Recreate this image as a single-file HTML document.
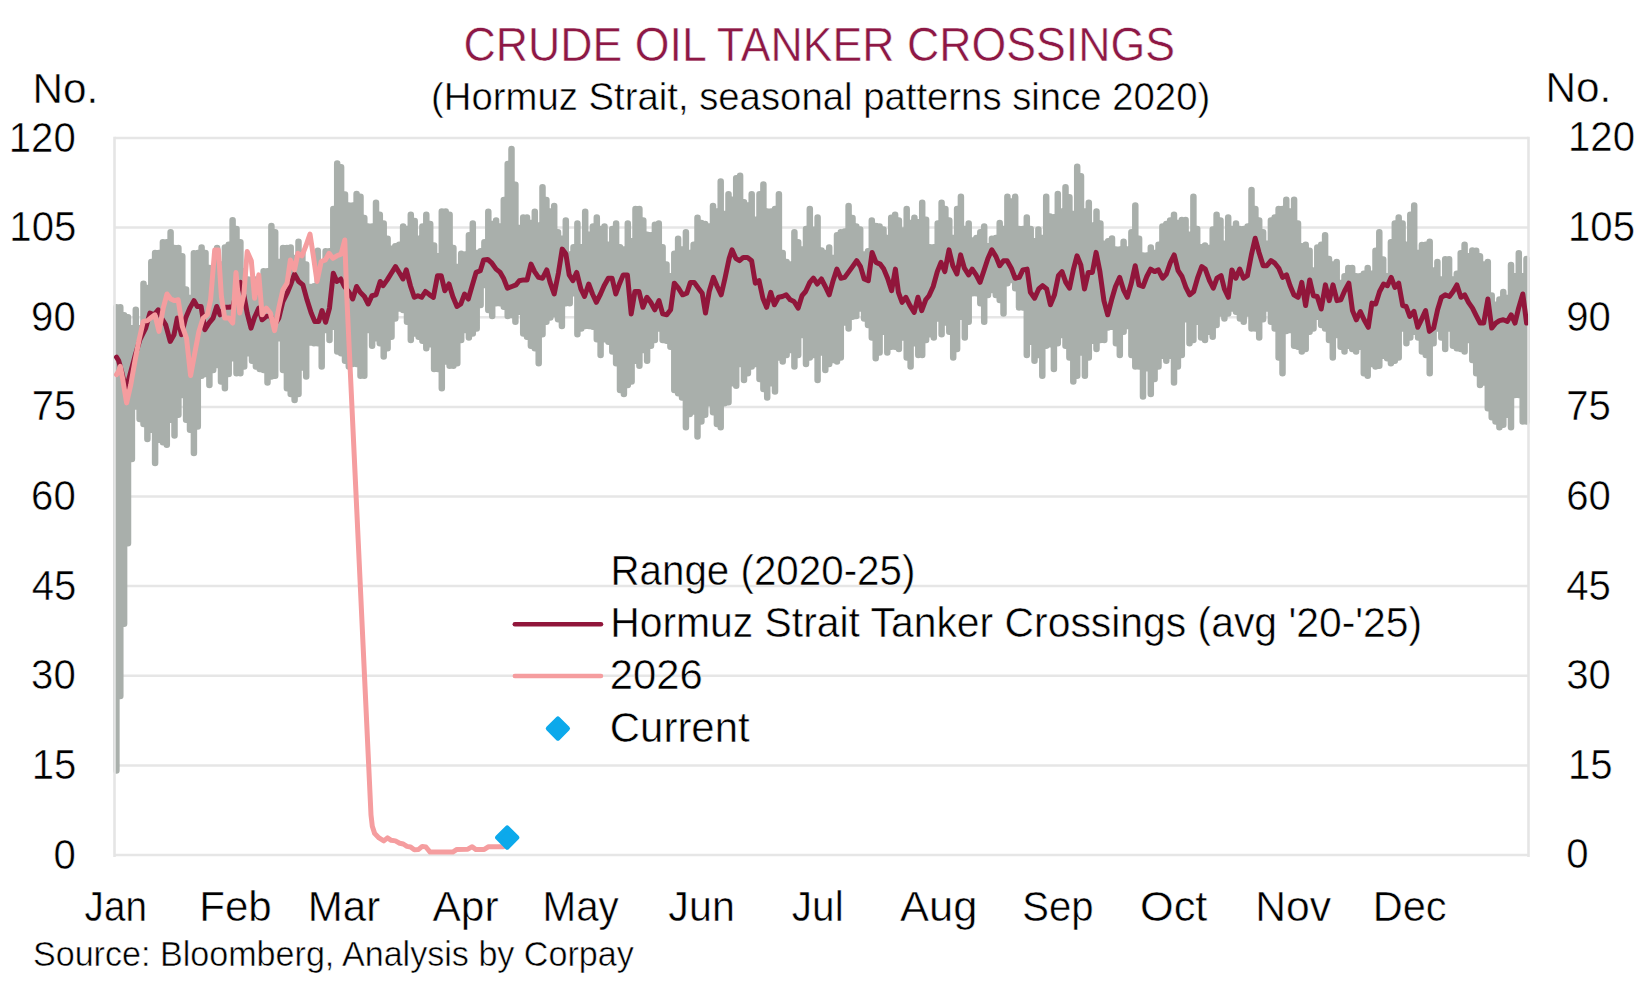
<!DOCTYPE html>
<html lang="en"><head><meta charset="utf-8"><title>Crude Oil Tanker Crossings</title>
<style>
html,body{margin:0;padding:0;background:#fff;}
body{width:1642px;height:1000px;overflow:hidden;}
svg{display:block;}
text{font-family:"Liberation Sans",sans-serif;stroke:#fff;stroke-width:0.5px;paint-order:fill stroke;}
</style></head><body>
<svg width="1642" height="1000" viewBox="0 0 1642 1000">
<rect width="1642" height="1000" fill="#fff"/>
<g stroke="#e6e6e6" stroke-width="2.5" fill="none">
<line x1="114.5" y1="855.00" x2="1528.5" y2="855.00"/>
<line x1="114.5" y1="765.38" x2="1528.5" y2="765.38"/>
<line x1="114.5" y1="675.75" x2="1528.5" y2="675.75"/>
<line x1="114.5" y1="586.12" x2="1528.5" y2="586.12"/>
<line x1="114.5" y1="496.50" x2="1528.5" y2="496.50"/>
<line x1="114.5" y1="406.88" x2="1528.5" y2="406.88"/>
<line x1="114.5" y1="317.25" x2="1528.5" y2="317.25"/>
<line x1="114.5" y1="227.62" x2="1528.5" y2="227.62"/>
<line x1="114.5" y1="138.00" x2="1528.5" y2="138.00"/>
</g>
<g stroke="#a9afab" stroke-width="6.5" stroke-linecap="round" fill="none">
<path d="M116.4 307.2V770.5M120.3 307.2V696.1M124.1 315.3V623.8M128.0 317.3V543.2M131.9 328.3V458.9M135.8 309.7V406.5M139.6 328.3V419.0M143.5 283.7V424.0M147.4 287.9V438.9M151.3 262.1V429.8M155.1 253.0V463.0M159.0 253.0V439.8M162.9 242.2V442.3M166.8 242.2V444.7M170.6 232.2V419.8M174.5 248.0V435.6M178.4 248.0V414.8M182.3 256.3V394.9M186.1 289.5V419.8M190.0 297.9V429.8M193.9 253.3V453.1M197.8 253.0V426.5M201.6 247.5V375.7M205.5 253.0V374.1M209.4 267.9V384.9M213.2 271.3V369.9M217.1 248.0V364.9M221.0 264.6V381.6M224.9 247.5V388.2M228.7 244.7V374.1M232.6 220.2V358.3M236.5 228.9V373.3M240.4 242.2V373.3M244.2 271.3V366.6M248.1 279.6V353.3M252.0 279.6V360.8M255.9 279.6V366.6M259.7 279.6V369.1M263.6 271.3V369.9M267.5 271.3V382.4M271.4 225.9V376.6M275.2 232.2V375.7M279.1 262.1V338.3M283.0 248.0V369.9M286.9 248.0V388.2M290.7 247.6V394.0M294.6 258.0V399.9M298.5 241.7V394.0M302.4 253.0V367.4M306.2 264.6V376.6M310.1 287.1V342.5M314.0 286.2V343.3M317.8 250.8V343.3M321.7 267.9V366.6M325.6 251.3V330.0M329.5 251.3V340.0M333.3 208.9V326.7M337.2 163.5V351.6M341.1 167.3V353.3M345.0 194.4V360.8M348.8 205.6V366.6M352.7 205.6V364.1M356.6 193.9V364.1M360.5 196.8V375.7M364.3 218.1V375.7M368.2 226.4V330.0M372.1 226.4V345.8M376.0 202.8V338.3M379.8 214.7V343.3M383.7 223.4V356.6M387.6 238.8V348.3M391.5 248.8V336.7M395.3 246.3V318.4M399.2 244.7V308.4M403.1 226.4V310.1M407.0 228.9V321.7M410.8 214.7V340.0M414.7 220.9V333.4M418.6 238.8V336.7M422.4 226.4V340.8M426.3 214.7V348.3M430.2 223.9V344.2M434.1 245.5V369.1M437.9 256.3V369.1M441.8 211.4V388.2M445.7 211.4V361.6M449.6 214.7V365.8M453.4 248.0V365.8M457.3 267.1V363.3M461.2 253.8V340.0M465.1 254.6V330.0M468.9 235.2V337.5M472.8 223.4V333.4M476.7 253.0V328.4M480.6 251.3V304.9M484.4 242.2V285.1M488.3 211.7V310.1M492.2 223.9V315.9M496.1 220.5V303.3M499.9 226.4V303.3M503.8 200.1V306.8M507.7 164.0V315.9M511.5 149.1V315.1M515.4 184.8V321.7M519.3 228.0V311.7M523.2 217.6V333.4M527.0 217.6V336.7M530.9 223.0V345.8M534.8 211.7V348.3M538.7 225.5V363.3M542.5 187.3V334.2M546.4 200.1V321.7M550.3 211.4V317.6M554.2 205.9V314.2M558.0 232.2V319.2M561.9 238.8V325.9M565.8 220.5V303.3M569.7 254.6V303.3M573.5 247.2V293.3M577.4 223.4V334.2M581.3 247.2V328.4M585.2 211.7V325.9M589.0 234.7V325.9M592.9 226.4V326.7M596.8 217.6V339.2M600.6 228.9V355.0M604.5 226.4V339.2M608.4 244.7V341.7M612.3 228.9V351.6M616.1 223.4V363.3M620.0 247.2V389.9M623.9 249.6V394.0M627.8 223.4V384.9M631.6 241.3V381.6M635.5 208.9V360.8M639.4 208.9V365.8M643.3 220.5V350.0M647.1 234.7V360.8M651.0 235.2V345.8M654.9 224.7V340.0M658.8 223.4V328.4M662.6 247.2V340.0M666.5 264.6V340.8M670.4 276.2V346.7M674.3 253.8V389.9M678.1 238.8V393.2M682.0 249.6V397.4M685.9 232.2V427.3M689.8 253.0V414.0M693.6 244.7V411.5M697.5 217.7V436.4M701.4 223.0V421.5M705.2 223.9V414.8M709.1 226.4V403.2M713.0 205.9V412.3M716.9 211.4V424.0M720.7 181.5V427.3M724.6 213.9V403.2M728.5 194.3V402.3M732.4 199.8V383.2M736.2 178.2V385.7M740.1 175.7V364.1M744.0 202.3V379.9M747.9 205.6V373.3M751.7 194.3V366.6M755.6 219.7V364.1M759.5 194.3V379.1M763.4 184.5V389.0M767.2 211.4V397.4M771.1 211.4V383.2M775.0 208.9V391.5M778.9 194.3V357.5M782.7 253.0V361.6M786.6 262.1V355.0M790.5 264.6V350.0M794.4 232.2V366.6M798.2 242.2V355.0M802.1 249.6V335.0M806.0 228.9V364.1M809.8 208.9V357.5M813.7 229.7V355.0M817.6 217.6V379.9M821.5 250.5V352.5M825.3 253.0V369.9M829.2 247.5V364.1M833.1 258.0V360.0M837.0 235.2V361.6M840.8 232.2V357.5M844.7 231.4V322.5M848.6 205.9V328.4M852.5 218.1V316.7M856.3 226.4V315.9M860.2 229.4V308.4M864.1 254.6V318.4M868.0 251.3V325.0M871.8 220.5V337.5M875.7 226.0V358.3M879.6 226.4V352.5M883.5 229.4V331.7M887.3 238.0V352.5M891.2 217.7V346.7M895.1 214.7V346.7M898.9 220.5V349.1M902.8 230.5V337.5M906.7 208.9V357.5M910.6 223.0V366.6M914.4 217.7V343.3M918.3 222.2V355.0M922.2 202.8V355.0M926.1 219.7V340.0M929.9 247.2V334.2M933.8 247.2V337.5M937.7 223.4V318.4M941.6 202.8V334.2M945.4 208.9V322.5M949.3 220.5V331.7M953.2 238.0V357.5M957.1 208.9V349.1M960.9 196.8V316.7M964.8 228.9V337.5M968.7 223.4V321.7M972.6 240.5V293.3M976.4 238.0V293.3M980.3 232.2V303.3M984.2 226.4V321.7M988.0 246.3V294.9M991.9 238.8V290.0M995.8 238.0V294.9M999.7 223.0V299.9M1003.5 228.9V313.4M1007.4 196.8V283.3M1011.3 201.4V280.0M1015.2 196.8V288.3M1019.0 228.9V307.4M1022.9 228.9V307.4M1026.8 217.6V355.0M1030.7 228.9V341.7M1034.5 241.3V360.8M1038.4 229.4V355.0M1042.3 238.0V375.7M1046.2 196.8V345.8M1050.0 216.4V344.2M1053.9 217.2V369.1M1057.8 193.9V343.3M1061.7 211.4V335.0M1065.5 187.3V345.8M1069.4 197.3V357.5M1073.3 213.9V381.6M1077.2 166.8V375.7M1081.0 176.2V352.5M1084.9 211.4V375.7M1088.8 202.8V357.5M1092.6 225.5V340.8M1096.5 211.4V349.1M1100.4 223.4V340.0M1104.3 243.8V340.0M1108.1 241.3V327.5M1112.0 238.5V326.7M1115.9 249.6V343.3M1119.8 249.6V355.0M1123.6 241.7V331.7M1127.5 249.6V325.9M1131.4 232.2V355.0M1135.3 205.6V366.6M1139.1 238.8V366.6M1143.0 255.5V396.5M1146.9 255.5V368.3M1150.8 247.5V394.0M1154.6 253.0V379.1M1158.5 244.7V366.6M1162.4 226.4V355.8M1166.3 223.9V360.8M1170.1 220.5V355.8M1174.0 214.7V382.4M1177.9 223.0V366.6M1181.8 220.1V355.0M1185.6 220.1V319.2M1189.5 234.7V343.3M1193.4 196.8V340.0M1197.2 228.9V321.7M1201.1 247.2V337.5M1205.0 245.5V340.0M1208.9 248.0V331.7M1212.7 229.4V336.7M1216.6 214.7V325.0M1220.5 220.5V313.4M1224.4 243.8V318.4M1228.2 217.6V313.4M1232.1 228.9V308.4M1236.0 223.4V311.7M1239.9 228.9V318.4M1243.7 228.9V321.7M1247.6 226.4V313.4M1251.5 190.1V328.4M1255.4 208.9V328.4M1259.2 220.5V337.5M1263.1 232.2V319.2M1267.0 243.8V308.4M1270.9 220.5V321.7M1274.7 217.6V328.4M1278.6 208.9V357.5M1282.5 208.9V373.3M1286.3 199.8V330.9M1290.2 211.4V330.0M1294.1 199.8V345.8M1298.0 223.4V346.7M1301.8 246.3V351.6M1305.7 244.7V349.1M1309.6 250.8V331.7M1313.5 270.4V328.4M1317.3 247.5V316.7M1321.2 244.7V325.0M1325.1 235.2V328.4M1329.0 259.1V340.0M1332.8 264.6V357.5M1336.7 262.1V335.0M1340.6 282.9V346.7M1344.5 276.2V351.6M1348.3 267.9V345.8M1352.2 267.9V349.1M1356.1 276.2V351.6M1360.0 276.2V346.7M1363.8 273.8V373.3M1367.7 267.9V375.7M1371.6 273.8V364.1M1375.5 250.8V366.6M1379.3 232.2V365.8M1383.2 259.6V355.8M1387.1 276.2V358.3M1390.9 242.2V363.3M1394.8 223.4V360.8M1398.7 217.6V357.5M1402.6 223.4V328.4M1406.4 244.7V343.3M1410.3 214.7V337.5M1414.2 205.6V331.7M1418.1 253.0V337.5M1421.9 245.0V351.6M1425.8 244.7V355.0M1429.7 241.7V373.3M1433.6 270.4V343.3M1437.4 262.1V328.4M1441.3 279.6V337.5M1445.2 259.3V349.1M1449.1 259.3V328.4M1452.9 279.6V345.8M1456.8 273.8V348.3M1460.7 253.3V349.1M1464.6 244.7V351.6M1468.4 256.3V340.0M1472.3 250.5V360.0M1476.2 250.8V373.3M1480.0 256.3V384.9M1483.9 264.6V382.4M1487.8 262.1V408.2M1491.7 295.4V417.3M1495.5 304.7V421.5M1499.4 299.5V427.3M1503.3 292.0V424.8M1507.2 297.9V414.8M1511.0 264.9V427.3M1514.9 276.2V394.9M1518.8 253.3V394.9M1522.7 276.2V421.5M1526.5 259.1V421.5"/>
</g>
<g stroke="#e5e5e5" stroke-width="2.6" fill="none"><line x1="114.5" y1="136.8" x2="114.5" y2="857.0"/><line x1="1528.5" y1="136.8" x2="1528.5" y2="857.0"/></g>
<clipPath id="pc"><rect x="113.5" y="138.0" width="1414.6" height="721.0"/></clipPath>
<g clip-path="url(#pc)">
<polyline points="116.5,357.2 118.6,360.5 121.6,371.3 125.8,389.6 130.0,374.6 134.9,356.3 139.9,339.7 145.7,328.1 149.9,313.1 154.1,314.8 158.2,309.8 161.5,318.1 165.7,324.8 170.2,341.4 174.0,334.7 177.3,318.1 181.5,334.7 185.6,318.1 189.8,308.1 194.0,300.6 197.3,306.5 201.1,306.5 204.8,329.7 208.9,323.1 213.1,318.1 216.7,306.5 220.1,314.8 224.7,307.3 228.9,307.3 233.0,306.5 236.4,291.5 240.5,282.4 243.8,294.8 247.2,313.1 251.0,328.1 254.6,317.3 258.8,308.1 262.1,319.8 266.3,316.4 270.4,315.6 274.6,324.8 278.8,318.1 282.9,301.5 287.1,293.2 291.2,283.2 294.5,274.0 298.7,281.5 302.9,284.9 307.0,299.8 311.2,313.1 314.8,321.4 318.7,321.4 322.0,310.6 325.6,322.3 329.5,308.1 333.3,273.2 336.9,281.5 340.8,279.0 344.4,286.5 348.6,291.5 352.7,299.0 356.6,286.5 360.2,292.3 364.4,296.5 368.2,304.0 371.9,295.7 376.0,294.8 380.2,281.5 383.0,285.7 387.2,279.9 391.3,273.2 395.5,266.6 399.6,273.2 403.0,279.0 406.3,269.9 410.4,285.7 414.3,297.3 417.9,295.7 421.6,297.3 425.4,291.5 429.6,294.8 433.4,297.3 437.5,275.7 441.2,275.7 444.8,290.7 449.0,284.0 452.8,296.5 457.0,306.5 460.8,304.0 464.5,294.0 468.3,299.0 472.4,284.9 476.1,272.4 480.3,270.7 483.6,259.9 487.7,259.4 491.9,263.2 496.1,269.1 500.2,272.4 503.5,278.2 507.4,288.2 511.9,286.5 516.0,284.9 519.3,280.7 523.5,279.9 527.1,279.9 531.0,264.1 534.6,271.6 538.5,277.4 542.6,278.2 546.8,269.9 550.1,282.4 554.2,294.0 558.4,273.2 562.2,249.1 565.9,254.1 569.2,274.9 572.9,280.7 576.7,272.4 580.9,289.0 584.5,296.5 588.7,284.0 592.5,294.0 596.3,302.3 600.5,294.0 604.1,285.7 608.3,278.2 612.1,278.2 615.8,294.0 619.4,284.0 623.2,274.9 627.4,274.9 631.2,313.9 634.9,291.5 639.0,291.5 642.9,307.3 646.9,297.3 650.7,302.3 654.8,309.8 659.0,300.6 662.7,313.9 666.8,314.8 670.6,309.8 674.3,283.2 678.4,288.2 682.6,294.8 686.8,293.2 690.4,282.4 694.2,282.4 698.4,288.2 702.2,293.2 705.5,313.1 709.2,291.5 713.4,277.4 717.2,286.5 721.2,294.8 725.0,278.2 729.2,258.3 732.0,249.9 735.8,258.3 739.5,260.7 743.3,257.4 747.4,257.4 751.6,260.7 755.3,283.2 759.1,280.7 762.9,298.2 766.6,307.3 770.7,292.3 774.4,304.8 778.5,297.3 782.4,296.5 786.2,294.8 790.3,299.8 794.0,301.5 798.2,308.1 802.0,295.7 805.6,291.5 809.8,282.4 813.4,278.2 817.3,284.0 821.4,279.0 825.3,286.5 829.2,294.8 833.1,280.7 836.9,269.1 840.9,278.2 844.7,277.4 848.9,271.6 852.5,266.6 856.7,260.7 860.5,266.6 864.2,279.0 868.3,280.7 872.1,252.4 876.0,262.4 880.1,264.1 883.8,269.1 887.6,278.2 891.6,290.7 895.4,269.1 898.4,292.3 902.1,302.3 905.9,297.3 910.0,305.6 914.2,312.3 917.9,297.3 921.7,310.6 925.7,299.8 929.0,295.7 933.2,286.5 937.3,271.6 941.0,262.4 944.8,271.6 949.0,249.9 952.8,265.7 956.9,274.0 960.6,254.9 964.4,268.2 968.6,274.9 972.2,269.1 976.1,274.9 980.0,282.4 983.9,270.7 988.0,258.3 991.8,249.9 996.0,256.6 999.7,265.7 1003.5,260.7 1007.1,260.7 1011.3,268.2 1015.1,278.2 1019.3,277.4 1022.9,269.9 1027.1,269.1 1030.4,292.3 1034.6,298.2 1038.7,289.0 1042.6,285.7 1046.7,289.0 1050.4,304.8 1054.5,294.8 1058.4,275.7 1062.0,271.6 1065.8,282.4 1069.5,288.2 1073.3,269.9 1077.0,255.8 1080.8,264.9 1084.5,289.0 1088.3,272.4 1092.4,272.4 1096.1,252.4 1099.9,271.6 1103.9,300.6 1107.7,314.8 1111.6,299.8 1115.5,286.5 1119.7,277.4 1123.5,289.8 1127.3,297.3 1131.3,283.2 1135.2,265.7 1139.0,284.9 1143.0,286.5 1146.8,276.5 1150.6,269.1 1154.6,271.6 1158.4,269.9 1162.6,278.2 1166.4,274.0 1170.4,262.4 1174.2,254.9 1178.1,270.7 1182.0,276.5 1185.9,287.3 1189.7,294.8 1193.7,291.5 1197.5,278.2 1201.7,266.6 1205.3,269.1 1209.5,280.7 1213.3,288.2 1217.0,278.2 1221.1,275.7 1224.4,289.0 1228.3,297.3 1231.9,269.9 1235.8,278.2 1239.7,269.1 1243.6,278.2 1247.4,275.7 1251.4,254.9 1255.2,238.3 1259.0,252.4 1263.2,265.7 1266.8,265.7 1271.0,260.7 1274.8,263.2 1278.8,268.2 1282.6,277.4 1286.5,274.9 1290.1,285.7 1293.9,294.8 1298.1,297.3 1301.8,282.4 1305.6,305.6 1309.7,279.9 1313.4,295.7 1317.2,296.5 1321.2,309.0 1325.4,284.9 1329.2,300.6 1333.0,284.9 1337.0,300.6 1340.8,299.8 1344.7,290.7 1348.8,283.2 1352.5,310.6 1356.3,319.8 1360.3,311.5 1364.1,319.8 1368.3,327.3 1371.9,303.1 1375.7,304.0 1379.6,291.5 1383.6,284.0 1387.4,285.7 1391.2,277.4 1394.9,287.3 1398.7,283.2 1402.7,305.6 1406.2,306.5 1409.8,316.4 1414.0,311.5 1417.8,327.3 1421.8,318.9 1425.6,310.6 1429.4,331.4 1433.6,328.1 1437.6,309.8 1441.4,297.3 1445.2,294.8 1449.4,296.5 1453.1,291.5 1456.9,284.9 1460.9,297.3 1464.7,294.8 1468.5,302.3 1472.5,308.1 1476.2,315.6 1480.1,323.1 1483.7,323.1 1487.9,299.0 1491.7,328.1 1495.7,323.1 1499.5,320.6 1503.3,319.8 1507.3,321.4 1511.2,314.8 1515.0,323.1 1518.6,308.1 1522.8,294.0 1526.6,323.1" fill="none" stroke="#91163b" stroke-width="5" stroke-linejoin="round" stroke-linecap="round"/>
<polyline points="116.5,374.6 118.6,371.3 120.3,366.3 122.5,378.0 126.6,402.9 130.8,384.6 134.9,361.3 139.1,339.7 143.3,321.4 147.4,320.6 151.6,317.3 154.9,314.8 159.0,331.4 163.2,308.1 167.0,294.0 170.7,299.0 174.5,300.6 178.2,299.8 182.3,326.4 186.5,338.1 190.6,375.5 194.8,353.0 198.9,331.4 203.1,318.1 207.3,314.8 210.6,299.8 214.7,249.9 218.4,249.9 221.4,296.5 224.7,318.1 228.9,318.1 232.7,323.1 236.0,272.4 239.7,313.1 243.8,294.8 247.2,251.6 251.3,260.7 254.6,298.2 258.8,274.9 262.1,314.8 266.3,308.1 270.4,313.1 274.6,330.6 278.8,308.1 282.9,289.8 287.1,283.2 290.4,259.9 294.5,269.9 297.9,253.3 302.0,255.8 306.2,245.0 310.0,234.1 313.7,258.3 317.0,281.5 321.2,261.6 325.3,259.9 329.1,253.3 332.8,258.3 336.9,255.8 341.1,254.1 344.8,240.0 346.5,290.0 371.0,815.0 372.3,826.3 374.7,833.6 379.0,837.9 383.8,840.9 387.5,837.9 391.2,840.3 395.4,840.9 399.7,843.3 403.3,844.0 407.0,846.4 410.6,847.0 414.3,849.7 418.6,849.4 422.2,846.4 425.9,847.0 430.1,852.1 452.7,852.1 456.9,849.4 467.9,849.2 472.2,846.7 475.8,849.4 484.3,849.4 488.6,846.7 503.2,846.7" fill="none" stroke="#f59d9f" stroke-width="5" stroke-linejoin="round" stroke-linecap="round"/>
</g>
<path d="M507.2 828.0L516.8 837.6L507.2 847.2L497.59999999999997 837.6Z" fill="#0ca9eb" stroke="#0ca9eb" stroke-width="5" stroke-linejoin="round"/>
<line x1="514.8" y1="624.3" x2="601" y2="624.3" stroke="#91163b" stroke-width="4.5" stroke-linecap="round"/>
<line x1="514.8" y1="676" x2="601" y2="676" stroke="#f59d9f" stroke-width="4.5" stroke-linecap="round"/>
<path d="M557.9 719.0L567.5 728.6L557.9 738.2L548.3 728.6Z" fill="#0ca9eb" stroke="#0ca9eb" stroke-width="5" stroke-linejoin="round"/>
<text transform="translate(463.61 60.85) scale(0.9369 1)" font-size="47.67" fill="#8d1845">CRUDE OIL TANKER CROSSINGS</text>
<text transform="translate(431.00 109.65) scale(0.9836 1)" font-size="38.95">(Hormuz Strait, seasonal patterns since 2020)</text>
<text transform="translate(32.50 103.25) scale(1.0036 1)" font-size="42.15">No.</text>
<text transform="translate(1545.50 102.15) scale(1.0036 1)" font-size="42.15">No.</text>
<text transform="translate(610.45 584.75) scale(0.9569 1)" font-size="42.15">Range (2020-25)</text>
<text transform="translate(610.21 636.85) scale(0.9698 1)" font-size="42.15">Hormuz Strait Tanker Crossings (avg '20-'25)</text>
<text transform="translate(609.84 689.05) scale(0.9913 1)" font-size="42.15">2026</text>
<text transform="translate(609.83 741.55) scale(0.9948 1)" font-size="42.15">Current</text>
<text transform="translate(32.93 966.15) scale(0.9861 1)" font-size="34.59">Source: Bloomberg, Analysis by Corpay</text>
<text transform="translate(84.60 920.75) scale(0.9179 1)" font-size="42.15">Jan</text>
<text transform="translate(199.21 920.75) scale(0.9981 1)" font-size="42.15">Feb</text>
<text transform="translate(307.71 920.75) scale(0.9987 1)" font-size="42.15">Mar</text>
<text transform="translate(432.50 920.75) scale(1.0094 1)" font-size="42.15">Apr</text>
<text transform="translate(542.55 920.75) scale(0.9576 1)" font-size="42.15">May</text>
<text transform="translate(668.36 920.75) scale(0.9779 1)" font-size="42.15">Jun</text>
<text transform="translate(791.87 920.75) scale(0.9615 1)" font-size="42.15">Jul</text>
<text transform="translate(900.00 920.75) scale(1.0326 1)" font-size="42.15">Aug</text>
<text transform="translate(1022.25 920.75) scale(0.9518 1)" font-size="42.15">Sep</text>
<text transform="translate(1139.97 920.75) scale(1.0276 1)" font-size="42.15">Oct</text>
<text transform="translate(1255.17 920.75) scale(1.0117 1)" font-size="42.15">Nov</text>
<text transform="translate(1372.75 920.75) scale(0.9859 1)" font-size="42.15">Dec</text>
<text transform="translate(53.41 868.55) scale(0.9529 1)" font-size="42.15">0</text>
<text transform="translate(1566.29 868.45) scale(0.9529 1)" font-size="42.15">0</text>
<text transform="translate(31.70 778.92) scale(0.9529 1)" font-size="42.15">15</text>
<text transform="translate(1567.99 778.83) scale(0.9529 1)" font-size="42.15">15</text>
<text transform="translate(31.08 689.30) scale(0.9529 1)" font-size="42.15">30</text>
<text transform="translate(1566.29 689.20) scale(0.9529 1)" font-size="42.15">30</text>
<text transform="translate(31.70 599.67) scale(0.9529 1)" font-size="42.15">45</text>
<text transform="translate(1566.29 599.58) scale(0.9529 1)" font-size="42.15">45</text>
<text transform="translate(31.08 510.05) scale(0.9529 1)" font-size="42.15">60</text>
<text transform="translate(1566.29 509.95) scale(0.9529 1)" font-size="42.15">60</text>
<text transform="translate(31.70 420.43) scale(0.9529 1)" font-size="42.15">75</text>
<text transform="translate(1566.29 420.32) scale(0.9529 1)" font-size="42.15">75</text>
<text transform="translate(31.08 330.80) scale(0.9529 1)" font-size="42.15">90</text>
<text transform="translate(1566.29 330.70) scale(0.9529 1)" font-size="42.15">90</text>
<text transform="translate(9.37 241.18) scale(0.9529 1)" font-size="42.15">105</text>
<text transform="translate(1567.99 241.07) scale(0.9529 1)" font-size="42.15">105</text>
<text transform="translate(8.74 151.55) scale(0.9529 1)" font-size="42.15">120</text>
<text transform="translate(1567.99 151.45) scale(0.9529 1)" font-size="42.15">120</text>
</svg>
</body></html>
